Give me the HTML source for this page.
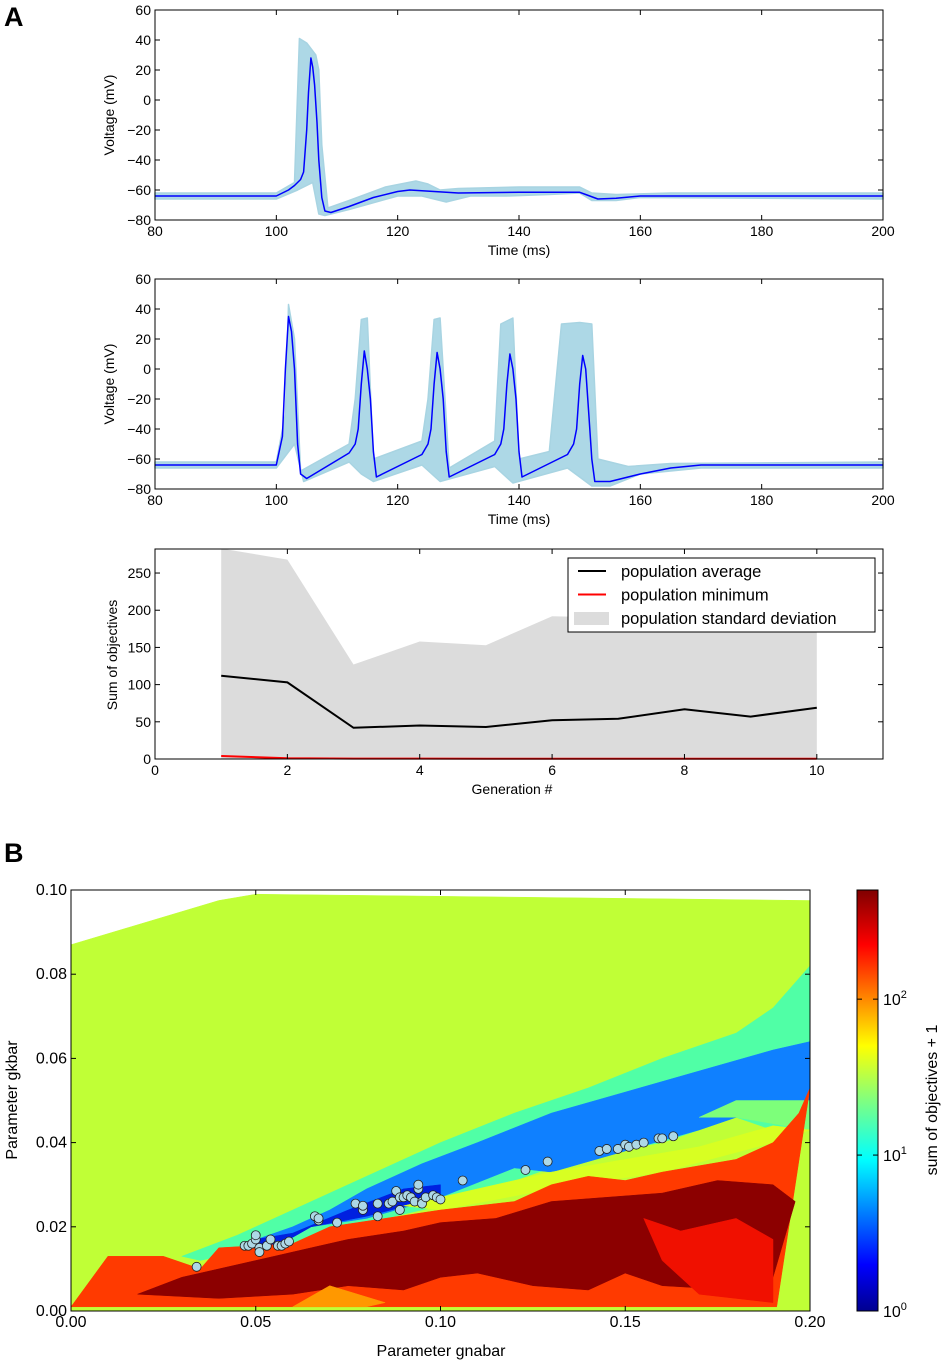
<!DOCTYPE html>
<html><head><meta charset="utf-8">
<style>
html,body{margin:0;padding:0;background:#fff;}
svg{display:block;font-family:"Liberation Sans","DejaVu Sans",sans-serif;}
</style></head>
<body>
<svg id="fig" width="945" height="1364" viewBox="0 0 945 1364" xmlns="http://www.w3.org/2000/svg">
<text x="4" y="26" font-size="27" font-weight="bold">A</text>
<text x="4" y="862" font-size="27" font-weight="bold">B</text>
</svg>
<script>
// ---------- data ----------
const t1Mean=[80,100,102,103,104,104.5,105,105.3,105.7,106,106.3,106.7,107,107.5,108,109,112,116,120,122,126,130,140,150,151,153,156,160,200];
const v1Mean=[-64,-64,-60,-57,-53,-48,-20,5,28,22,10,-15,-40,-65,-74,-75,-71,-65,-61,-60,-61,-62,-61.5,-61.5,-63,-66,-65.5,-64,-64];
const t1Up=[80,100,103,103.8,105,106.5,107,107.5,108.5,112,118,123,125,127,130,140,150,152,156,165,200];
const v1Up=[-62,-62,-55,41,38,30,20,-30,-72,-67,-58,-54,-56,-60,-59,-58,-58,-62,-63,-62,-62];
const t1Lo=[80,100,103.5,106,107,108,112,120,124,128,132,138,145,150,152,156,160,200];
const v1Lo=[-66,-66,-60,-55,-76,-77,-73,-64,-64,-68,-64,-64,-63,-62,-67,-67,-65,-66];

const t2Mean=[80,100,101,101.5,102,102.5,103,103.5,104,105,112,113,113.5,114,114.5,115,115.5,116,116.5,124,125,125.5,126,126.5,127,127.5,128,128.5,136,137,137.5,138,138.5,139,139.5,140,140.5,148,149,149.5,150,150.5,151,151.5,152,152.5,155,160,165,170,200];
const v2Mean=[-64,-64,-45,0,35,25,0,-50,-70,-73,-56,-50,-40,-10,12,0,-20,-55,-72,-57,-50,-40,-10,11,0,-20,-55,-72,-57,-50,-40,-10,10,0,-20,-55,-72,-57,-50,-40,-10,9,0,-30,-60,-75,-75,-70,-66,-64,-64];
const t2Up=[80,100,101.5,102,103,104,112,113,114,115,116,124,125,126,127,128.5,136,137,139,140,145,147,150,152,153,158,165,200];
const v2Up=[-62,-62,-30,43,20,-68,-50,-20,33,34,-60,-48,-20,33,34,-66,-48,30,34,-60,-55,30,31,30,-60,-65,-63,-62];
const t2Lo=[80,100,103,104.5,112,114,116,124,127,136,139,148,152,155,160,170,200];
const v2Lo=[-66,-66,-50,-75,-62,-70,-75,-64,-75,-65,-76,-66,-78,-78,-70,-66,-66];

const generations=[1,2,3,4,5,6,7,8,9,10];
const popAverage=[112,103,42,45,43,52,54,67,57,69];
const popMinimum=[4,1,0.5,0.5,0.3,0.3,0.3,0.3,0.3,0.3];
const popStdUpper=[283,268,127,158,153,192,190,185,180,170];

const ptsGna=[0.034,0.047,0.048,0.049,0.050,0.050,0.051,0.051,0.053,0.054,0.056,0.057,0.058,0.059,0.066,0.067,0.067,0.072,0.077,0.079,0.079,0.083,0.083,0.086,0.087,0.088,0.089,0.089,0.090,0.091,0.092,0.093,0.094,0.094,0.095,0.095,0.096,0.098,0.099,0.100,0.106,0.123,0.129,0.143,0.145,0.148,0.150,0.151,0.153,0.155,0.159,0.160,0.163];
const ptsGk=[0.0105,0.0155,0.0155,0.016,0.017,0.018,0.015,0.014,0.0155,0.017,0.0155,0.0155,0.016,0.0165,0.0225,0.0215,0.022,0.021,0.0255,0.024,0.025,0.0255,0.0225,0.0255,0.026,0.0285,0.027,0.024,0.027,0.0275,0.027,0.026,0.029,0.030,0.026,0.0255,0.027,0.0275,0.027,0.0265,0.031,0.0335,0.0355,0.038,0.0385,0.0385,0.0395,0.039,0.0395,0.040,0.041,0.041,0.0415];

// contour regions (data coordinates: [gnabar, gkbar])
const regionNames=['region-high','region-green','region-blue','region-darkblue','region-lowgreen','region-yellow','region-red','region-darkred','region-orange','region-red-patch'];
const regionColors=['#c0ff36','#50ffa6','#0f80ff','#0020e0','#7dff7a','#d8ff22','#ff3a00','#8c0000','#ff9800','#f01000'];
const regionPolys=[
 [[0,0.087],[0.04,0.0975],[0.05,0.099],[0.2,0.0975],[0.2,0],[0,0]],
 [[0.03,0.013],[0.045,0.018],[0.06,0.024],[0.08,0.032],[0.1,0.04],[0.12,0.047],[0.14,0.053],[0.16,0.06],[0.18,0.066],[0.19,0.072],[0.2,0.082],[0.2,0.043],[0.19,0.043],[0.18,0.046],[0.16,0.04],[0.14,0.037],[0.12,0.031],[0.1,0.025],[0.08,0.021],[0.06,0.015],[0.045,0.014],[0.035,0.012]],
 [[0.047,0.016],[0.06,0.02],[0.07,0.024],[0.08,0.029],[0.095,0.035],[0.11,0.04],[0.13,0.047],[0.15,0.052],[0.17,0.057],[0.19,0.062],[0.2,0.064],[0.2,0.05],[0.19,0.049],[0.17,0.043],[0.15,0.038],[0.13,0.033],[0.12,0.034],[0.1,0.027],[0.08,0.022],[0.065,0.02],[0.055,0.015],[0.047,0.015]],
 [[0.05,0.017],[0.06,0.0185],[0.075,0.024],[0.09,0.029],[0.1,0.03],[0.1,0.027],[0.08,0.0225],[0.065,0.02],[0.055,0.015],[0.048,0.015]],
 [[0.17,0.046],[0.18,0.05],[0.2,0.05],[0.2,0.043],[0.18,0.046]],
 [[0.09,0.025],[0.11,0.029],[0.13,0.033],[0.15,0.036],[0.17,0.039],[0.19,0.044],[0.2,0.043],[0.19,0.04],[0.16,0.033],[0.13,0.029],[0.1,0.024]],
 [[0,0.001],[0.01,0.013],[0.025,0.013],[0.035,0.01],[0.04,0.015],[0.06,0.016],[0.07,0.02],[0.085,0.022],[0.1,0.024],[0.12,0.026],[0.13,0.03],[0.14,0.032],[0.15,0.031],[0.16,0.033],[0.18,0.036],[0.19,0.04],[0.197,0.047],[0.2,0.053],[0.191,0.001]],
 [[0.018,0.004],[0.03,0.008],[0.04,0.01],[0.055,0.013],[0.065,0.015],[0.075,0.017],[0.09,0.019],[0.1,0.021],[0.115,0.022],[0.13,0.026],[0.145,0.027],[0.16,0.028],[0.175,0.031],[0.19,0.03],[0.196,0.026],[0.19,0.008],[0.18,0.005],[0.16,0.006],[0.15,0.009],[0.14,0.005],[0.125,0.006],[0.11,0.009],[0.1,0.008],[0.09,0.005],[0.075,0.006],[0.06,0.004],[0.04,0.003]],
 [[0.06,0.001],[0.07,0.006],[0.085,0.002],[0.08,0.001]],
 [[0.155,0.022],[0.165,0.019],[0.18,0.022],[0.19,0.017],[0.19,0.002],[0.17,0.004],[0.16,0.012]]
];
const cbTicks=[0,1,2];

// ---------- helpers ----------
const NS='http://www.w3.org/2000/svg';
const svg=document.getElementById('fig');
function mk(tag,attrs,parent){const e=document.createElementNS(NS,tag);for(const k in attrs)e.setAttribute(k,attrs[k]);(parent||svg).appendChild(e);return e;}
function lin(d0,d1,r0,r1){return v=>r0+(v-d0)/(d1-d0)*(r1-r0);}

function frame(x0,y0,x1,y1,name){
  const r=mk('rect',{x:x0,y:y0,width:x1-x0,height:y1-y0,fill:'none',stroke:'#000','stroke-width':1});
  
  
}
function ticksX(vals,labels,sx,y0,y1,name,fs){
  vals.forEach((v,i)=>{
    const x=sx(v);
    mk('line',{x1:x,x2:x,y1:y1,y2:y1-5,stroke:'#000'});
    mk('line',{x1:x,x2:x,y1:y0,y2:y0+5,stroke:'#000'});
    const t=mk('text',{x:x,y:y1+16,'font-size':fs||14,'text-anchor':'middle'});
    t.textContent=labels[i];
    
    
  });
}
function ticksY(vals,labels,sy,x0,x1,name,fs){
  vals.forEach((v,i)=>{
    const y=sy(v);
    mk('line',{x1:x0,x2:x0+5,y1:y,y2:y,stroke:'#000'});
    mk('line',{x1:x1,x2:x1-5,y1:y,y2:y,stroke:'#000'});
    const t=mk('text',{x:x0-4,y:y+5,'font-size':fs||14,'text-anchor':'end'});
    t.textContent=labels[i];
    
    
  });
}
function label(x,y,txt,rot,name,fs){
  const t=mk('text',{x:x,y:y,'font-size':fs||14,'text-anchor':'middle',transform:rot?`rotate(-90 ${x} ${y})`:''});
  t.textContent=txt;
  
  
}
function pathFrom(xs,ys,sx,sy){return xs.map((v,i)=>(i?'L':'M')+sx(v).toFixed(1)+','+sy(ys[i]).toFixed(1)).join('');}

// ---------- voltage plots ----------
function voltagePlot(y0,y1,tm,vm,tu,vu,tl,vl,id){
  const x0=155,x1=883;
  const sx=lin(80,200,x0,x1), sy=lin(-80,60,y1,y0);
  const band=mk('path',{d:pathFrom(tu,vu,sx,sy)+pathFrom(tl.slice().reverse(),vl.slice().reverse(),sx,sy).replace('M','L')+'Z',fill:'#add8e6',stroke:'#a8d4e2','stroke-width':1.5,'stroke-linejoin':'round'});
  
  
  const ln=mk('path',{d:pathFrom(tm,vm,sx,sy),fill:'none',stroke:'#0000ff','stroke-width':1.5,'stroke-linejoin':'round'});
  
  
  frame(x0,y0,x1,y1,id+'-axes');
  ticksX([80,100,120,140,160,180,200],['80','100','120','140','160','180','200'],sx,y0,y1,id+'-x');
  ticksY([-80,-60,-40,-20,0,20,40,60],['−80','−60','−40','−20','0','20','40','60'],sy,x0,x1,id+'-y');
  label(519,y1+35,'Time (ms)',false,id+'-x-axis-title',14);
  label(114,(y0+y1)/2,'Voltage (mV)',true,id+'-y-axis-title',14);
}
voltagePlot(10,220,t1Mean,v1Mean,t1Up,v1Up,t1Lo,v1Lo,'voltage-plot-1');
voltagePlot(279,489,t2Mean,v2Mean,t2Up,v2Up,t2Lo,v2Lo,'voltage-plot-2');

// ---------- objective plot ----------
(function(){
  const x0=155,x1=883,y0=549,y1=759;
  const sx=lin(0,11,x0,x1), sy=lin(0,282.3,y1,y0);
  const std=mk('path',{d:pathFrom(generations,popStdUpper,sx,sy)+`L${sx(generations[generations.length-1])},${sy(0)}L${sx(generations[0])},${sy(0)}Z`,fill:'#dcdcdc'});
  
  
  const avg=mk('path',{d:pathFrom(generations,popAverage,sx,sy),fill:'none',stroke:'#000','stroke-width':2});
  
  
  const mn=mk('path',{d:pathFrom(generations,popMinimum,sx,sy),fill:'none',stroke:'#ff0000','stroke-width':2});
  
  
  frame(x0,y0,x1,y1,'objective-axes');
  ticksX([0,2,4,6,8,10],['0','2','4','6','8','10'],sx,y0,y1,'objective-x');
  ticksY([0,50,100,150,200,250],['0','50','100','150','200','250'],sy,x0,x1,'objective-y');
  label(512,y1+35,'Generation #',false,'objective-x-axis-title',14);
  label(117,655,'Sum of objectives',true,'objective-y-axis-title',14);
  const lg=mk('g',{});
  
  
  mk('rect',{x:568,y:558,width:307,height:74,fill:'#fff',stroke:'#000'},lg);
  const items=[['population average','line','#000'],['population minimum','line','#f00'],['population standard deviation','box','#dcdcdc']];
  items.forEach((it,i)=>{
    const y=571+i*23.5;
    const g=mk('g',{},lg);
    
    
    if(it[1]==='line') mk('line',{x1:578,x2:606,y1:y,y2:y,stroke:it[2],'stroke-width':2},g);
    else mk('rect',{x:574,y:y-6,width:35,height:13,fill:it[2]},g);
    const t=mk('text',{x:621,y:y+6,'font-size':16.5},g);
    t.textContent=it[0];
  });
})();

// ---------- panel B ----------
(function(){
  const x0=71,x1=810,y0=890,y1=1311;
  const sx=lin(0,0.2,x0,x1), sy=lin(0,0.1,y1,y0);
  regionPolys.forEach((p,i)=>{
    const d=p.map((q,j)=>(j?'L':'M')+sx(q[0]).toFixed(1)+','+sy(q[1]).toFixed(1)).join('')+'Z';
    const e=mk('path',{d:d,fill:regionColors[i],stroke:regionColors[i],'stroke-width':0.5,'stroke-linejoin':'round'});
    
    
  });
  ptsGna.forEach((v,i)=>{
    const c=mk('circle',{cx:sx(v),cy:sy(ptsGk[i]),r:4.5,fill:'#add8e6',stroke:'#222','stroke-width':0.8});
    
    
  });
  frame(x0,y0,x1,y1,'parameter-axes');
  ticksX([0,0.05,0.1,0.15,0.2],['0.00','0.05','0.10','0.15','0.20'],sx,y0,y1,'parameter-x',16);
  ticksY([0,0.02,0.04,0.06,0.08,0.1],['0.00','0.02','0.04','0.06','0.08','0.10'],sy,x0,x1,'parameter-y',16);
  label(441,1356,'Parameter gnabar',false,'parameter-x-axis-title',16);
  label(17,1100,'Parameter gkbar',true,'parameter-y-axis-title',16);
  const defs=mk('defs',{});
  const lg=mk('linearGradient',{id:'jet',x1:0,y1:1,x2:0,y2:0},defs);
  [['0','#00008f'],['0.11','#0000ff'],['0.36','#00ffff'],['0.5','#80ff80'],['0.63','#ffff00'],['0.87','#ff0000'],['1','#800000']].forEach(s=>mk('stop',{offset:s[0],'stop-color':s[1]},lg));
  const cb=mk('rect',{x:857,y:890,width:21,height:421,fill:'url(#jet)',stroke:'#000'});
  
  
  const sc=lin(0,2.7,1311,890);
  cbTicks.forEach(p=>{
    const y=sc(p);
    mk('line',{x1:873,x2:878,y1:y,y2:y,stroke:'#000'});
    mk('line',{x1:857,x2:862,y1:y,y2:y,stroke:'#000'});
    const t=mk('text',{x:883,y:y+6,'font-size':16});
    
    
    t.textContent='10';
    const s=mk('tspan',{dy:-7,'font-size':11},t);s.textContent=String(p);
  });
  label(937,1100,'sum of objectives + 1',true,'colorbar-title',16);
})();
</script>
</body></html>
